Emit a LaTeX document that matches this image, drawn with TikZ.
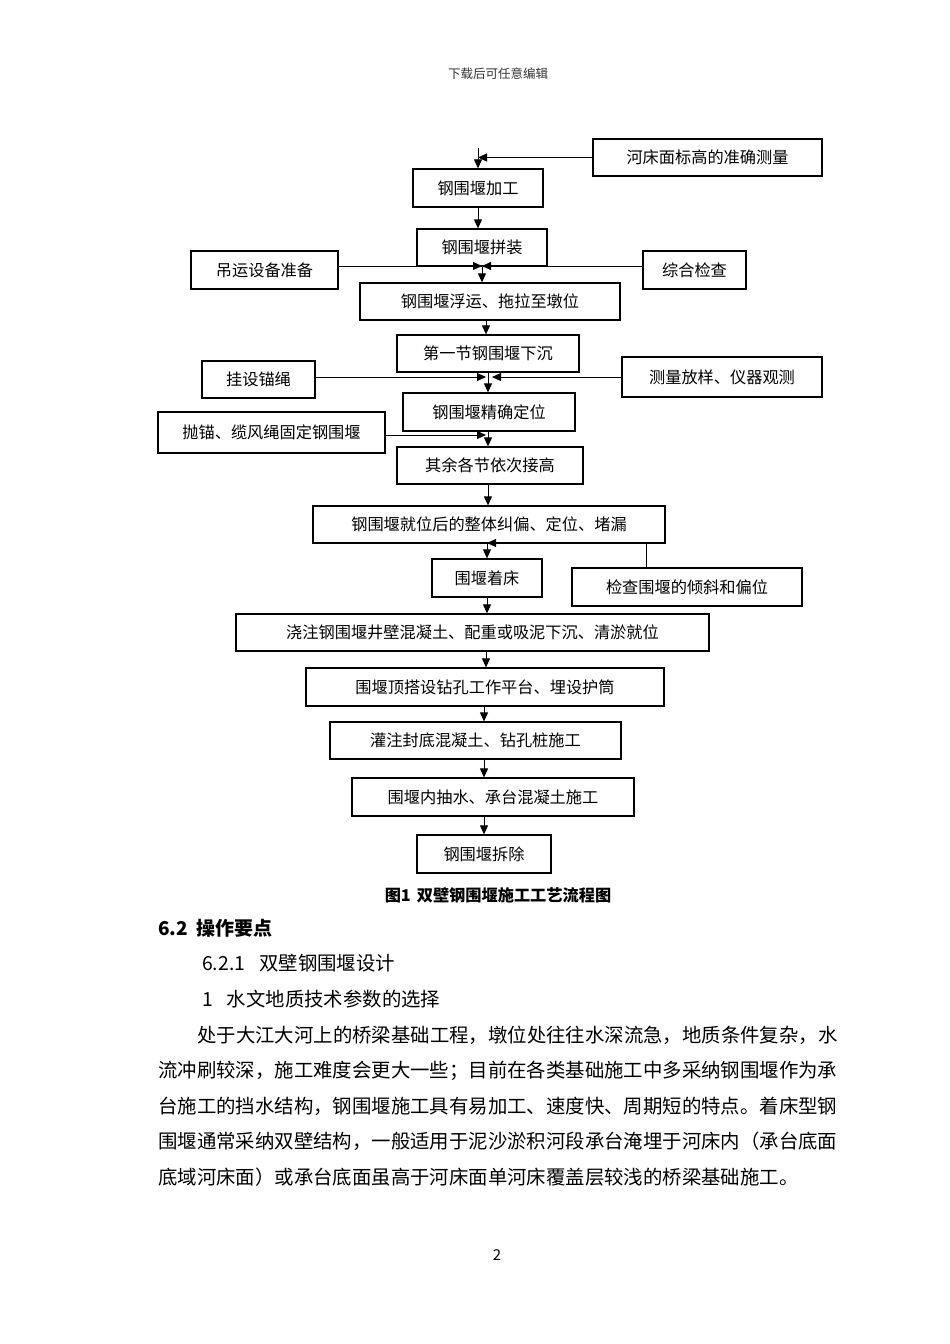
\documentclass[tikz,border=0pt]{standalone}
\usepackage{fontspec}
\newfontfamily\cjk{Noto Sans CJK SC}
\usetikzlibrary{arrows.meta}
\begin{document}
\begin{tikzpicture}[x=1pt,y=-1pt,
  box/.style={draw,line width=1.3pt,inner sep=0pt,font=\cjk\fontsize{16.2}{16.2}\selectfont},
  arr/.style={line width=1pt,-{Triangle[length=9pt,width=8pt]}},
  body/.style={anchor=west,inner sep=0pt,font=\cjk\fontsize{19.4}{19.4}\selectfont},
  hd/.style={anchor=west,inner sep=0pt,font=\cjk\bfseries\fontsize{19}{19}\selectfont}]
\fill[white] (0,0) rectangle (950,1344);
\useasboundingbox (0,0) rectangle (950,1344);
% header
\node[inner sep=0pt,text=black!80,font=\cjk\fontsize{12.5}{12.5}\selectfont] (hdr) at (498,74) {下载后可任意编辑};
% boxes
\node[box,minimum width=229pt,minimum height=37pt] (b1) at (707.5,157.5) {河床面标高的准确测量};
\node[box,minimum width=130pt,minimum height=38pt] (b2) at (478,188) {钢围堰加工};
\node[box,minimum width=130pt,minimum height=37pt] (b3) at (482,247.5) {钢围堰拼装};
\node[box,minimum width=147pt,minimum height=38pt] (b4) at (264.5,270) {吊运设备准备};
\node[box,minimum width=103pt,minimum height=38pt] (b5) at (694.5,270) {综合检查};
\node[box,minimum width=260pt,minimum height=37pt] (b6) at (490,301.5) {钢围堰浮运、拖拉至墩位};
\node[box,minimum width=182pt,minimum height=37pt] (b7) at (488,353.5) {第一节钢围堰下沉};
\node[box,minimum width=113pt,minimum height=37pt] (b8) at (258.5,379.5) {挂设锚绳};
\node[box,minimum width=200pt,minimum height=40pt] (b9) at (722,377) {测量放样、仪器观测};
\node[box,minimum width=172pt,minimum height=38pt] (b10) at (489,412) {钢围堰精确定位};
\node[box,minimum width=227pt,minimum height=41pt] (b11) at (271.5,432.5) {抛锚、缆风绳固定钢围堰};
\node[box,minimum width=186pt,minimum height=37pt] (b12) at (490,465.5) {其余各节依次接高};
\node[box,minimum width=352pt,minimum height=37pt] (b13) at (489,524.5) {钢围堰就位后的整体纠偏、定位、堵漏};
\node[box,minimum width=110pt,minimum height=38pt] (b14) at (487,578) {围堰着床};
\node[box,minimum width=230pt,minimum height=38pt] (b15) at (687,587) {检查围堰的倾斜和偏位};
\node[box,minimum width=473pt,minimum height=37pt] (b16) at (472.5,632.5) {浇注钢围堰井壁混凝土、配重或吸泥下沉、清淤就位};
\node[box,minimum width=358pt,minimum height=38pt] (b17) at (485,687) {围堰顶搭设钻孔工作平台、埋设护筒};
\node[box,minimum width=291pt,minimum height=37pt] (b18) at (475.5,740.5) {灌注封底混凝土、钻孔桩施工};
\node[box,minimum width=282pt,minimum height=38pt] (b19) at (493,797) {围堰内抽水、承台混凝土施工};
\node[box,minimum width=134pt,minimum height=38pt] (b20) at (484,854) {钢围堰拆除};
% helper coordinates
\coordinate (t0) at (478,148);
\coordinate (m1) at (482,266);
\coordinate (m2a) at (486,377);
\coordinate (m2b) at (492,377);
\coordinate (m3) at (486,435);
\coordinate (k) at (646,543);
\coordinate (sp) at (487,0);
\coordinate (sq) at (484,0);
% connectors
\draw[arr] (t0) -- (b2.north);
\draw[arr] (b1.west) -- (b1.west -| t0);
\draw[arr] (b2.south) -- (b2.south |- b3.north);
\draw[arr] (b4.east |- m1) -- (m1);
\draw[arr] (b5.west |- m1) -- (m1);
\draw[arr] (m1) -- (m1 |- b6.north);
\draw[arr] (b6.south -| 486,0) -- (b7.north -| 486,0);
\draw[arr] (b8.east |- m2a) -- (m2a);
\draw[arr] (b9.west |- m2b) -- (m2b);
\draw[arr] (b7.south -| 488,0) -- (b10.north -| 488,0);
\draw[arr] (b11.east |- m3) -- (m3);
\draw[arr] (b10.south -| 488,0) -- (b12.north -| 488,0);
\draw[arr] (b12.south -| 488,0) -- (b13.north -| 488,0);
\draw[arr] (b13.south -| sp) -- (b14.north -| sp);
\draw[arr] (b15.north -| k) -- (k) -- (k -| sp);
\draw[arr] (b14.south -| sp) -- (b16.north -| sp);
\draw[arr] (b16.south -| 486,0) -- (b17.north -| 486,0);
\draw[arr] (b17.south -| sq) -- (b18.north -| sq);
\draw[arr] (b18.south -| sq) -- (b19.north -| sq);
\draw[arr] (b19.south -| sq) -- (b20.north -| sq);
% caption
\node[inner sep=0pt,font=\cjk\bfseries\fontsize{16.2}{16.2}\selectfont] (cap) at (498,895) {图1\hspace{6pt}双壁钢围堰施工工艺流程图};
% text
\node[hd] (h1) at (158,928) {6.2\hspace{9pt}操作要点};
\node[body] (h2) at (202,963.6) {6.2.1\hspace{14pt}双壁钢围堰设计};
\node[body] (h3) at (202,999) {1\hspace{14pt}水文地质技术参数的选择};
\node[body] (p1) at (197,1035) {处于大江大河上的桥梁基础工程，墩位处往往水深流急，地质条件复杂，水};
\node[body] (p2) at (158,1070.5) {流冲刷较深，施工难度会更大一些；目前在各类基础施工中多采纳钢围堰作为承};
\node[body] (p3) at (158,1106) {台施工的挡水结构，钢围堰施工具有易加工、速度快、周期短的特点。着床型钢};
\node[body] (p4) at (158,1141.5) {围堰通常采纳双壁结构，一般适用于泥沙淤积河段承台淹埋于河床内（承台底面};
\node[body] (p5) at (158,1177) {底域河床面）或承台底面虽高于河床面单河床覆盖层较浅的桥梁基础施工。};
\node[inner sep=0pt,font=\cjk\fontsize{15}{15}\selectfont] (pg) at (497,1255) {2};
\end{tikzpicture}
\end{document}
